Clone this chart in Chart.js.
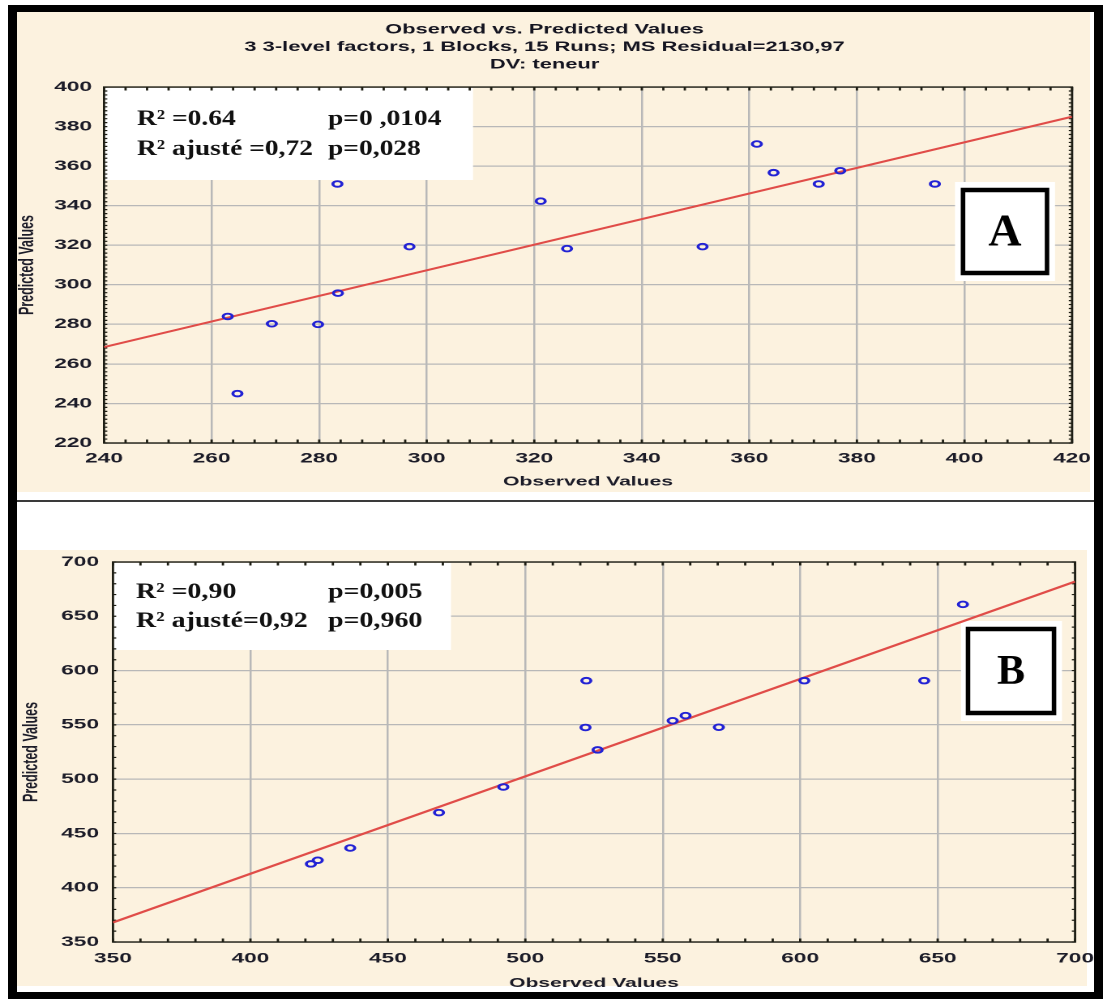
<!DOCTYPE html>
<html>
<head>
<meta charset="utf-8">
<script src="https://cdn.jsdelivr.net/npm/chart.js@4.4.1/dist/chart.umd.min.js"></script>
<style>
    html, body { margin: 0; padding: 0; background: #fff; }
    body { position: relative; width: 1105px; height: 999px; overflow: hidden; }
    #frame { position: absolute; left: 8px; top: 5px; width: 1095px; height: 994px; box-sizing: border-box;
             border-style: solid; border-color: #000; border-width: 7px 9px 7px 9px; }
    .bg { position: absolute; left: 17px; background: #fcf2df; }
    #bgA { top: 12px; width: 1073px; height: 480px; }
    #bgB { top: 550px; width: 1070px; height: 436px; }
    #sep { position: absolute; left: 17px; top: 500px; width: 1077px; height: 2px; background: #3a3a3a; }
    .wrap { position: absolute; left: 17px; width: 672px; transform-origin: 0 0; transform: scaleX(1.62085); }
    #wrapA { top: 12px; height: 480px; }
    #wrapB { top: 550px; height: 442px; }
</style>
</head>
<body>
<div id="frame"></div>
<div id="bgA" class="bg"></div>
<div id="sep"></div>
<div id="bgB" class="bg"></div>
<div id="wrapA" class="wrap"><canvas id="chartA" width="672" height="480"></canvas></div>
<div id="wrapB" class="wrap"><canvas id="chartB" width="672" height="442"></canvas></div>
<script>
// ---- panel A data ----
var observedA  = [263.0, 264.8, 271.2, 279.8, 283.5, 283.4, 296.8, 321.2, 326.1, 351.3, 361.4, 364.5, 372.9, 376.9, 394.5];
var predictedA = [284.0, 245.0, 280.3, 280.0, 295.8, 351.0, 319.3, 342.3, 318.3, 319.3, 371.2, 356.7, 351.0, 357.7, 351.0];
var fitXA = [240, 420];
var fitYA = [268.5, 385];
var ticksXA = [240, 260, 280, 300, 320, 340, 360, 380, 400, 420];
var ticksYA = [220, 240, 260, 280, 300, 320, 340, 360, 380, 400];
var titleA = ['Observed vs. Predicted Values', '3 3-level factors, 1 Blocks, 15 Runs; MS Residual=2130,97', 'DV: teneur'];
var notesA = ['R\u00B2 =0.64', 'p=0 ,0104', 'R\u00B2 ajust\u00E9 =0,72', 'p=0,028'];

// ---- panel B data ----
var observedB  = [422.0, 424.5, 436.3, 468.6, 492.0, 521.9, 522.2, 526.3, 553.6, 558.3, 570.4, 601.5, 645.1, 659.2];
var predictedB = [421.9, 425.3, 436.6, 469.2, 492.8, 547.6, 590.7, 526.9, 553.8, 558.5, 547.8, 590.7, 590.7, 661.0];
var fitXB = [350, 700];
var fitYB = [368, 682];
var ticksXB = [350, 400, 450, 500, 550, 600, 650, 700];
var ticksYB = [350, 400, 450, 500, 550, 600, 650, 700];
var notesB = ['R\u00B2 =0,90', 'p=0,005', 'R\u00B2 ajust\u00E9=0,92', 'p=0,960'];

var STRETCH = 1.62085;

function pairs(xs, ys) {
    return xs.map(function (x, i) { return { x: x, y: ys[i] }; });
}

// white patches, plot border with minor ticks, text notes and the letter box
var panelPlugin = {
    id: 'panel',
    beforeDatasetsDraw: function (chart, args, opts) {
        var ctx = chart.ctx;
        var area = chart.chartArea;
        ctx.save();
        ctx.scale(1 / STRETCH, 1);
        ctx.fillStyle = '#ffffff';
        opts.masks.forEach(function (m) {
            ctx.fillRect(m[0], m[1], m[2] - m[0], m[3] - m[1]);
        });
        ctx.restore();

        var xs = chart.scales.x, ys = chart.scales.y;
        ctx.save();
        ctx.strokeStyle = '#1e1e14';
        ctx.lineWidth = 1.4;
        ctx.beginPath();
        for (var v = xs.min; v <= xs.max + 1e-9; v += opts.minorX) {
            var px = xs.getPixelForValue(v);
            ctx.moveTo(px, area.top); ctx.lineTo(px, area.top + 3.5);
            ctx.moveTo(px, area.bottom); ctx.lineTo(px, area.bottom - 3.5);
        }
        ctx.stroke();
        ctx.lineWidth = 1.2;
        ctx.beginPath();
        for (var w = ys.min; w <= ys.max + 1e-9; w += opts.minorY) {
            var py = ys.getPixelForValue(w);
            ctx.moveTo(area.left, py); ctx.lineTo(area.left + 2, py);
            ctx.moveTo(area.right, py); ctx.lineTo(area.right - 2, py);
        }
        ctx.stroke();
        ctx.lineWidth = 1.4;
        ctx.strokeRect(area.left, area.top, area.right - area.left, area.bottom - area.top);
        ctx.restore();
    },
    afterDraw: function (chart, args, opts) {
        var ctx = chart.ctx;
        ctx.save();
        ctx.scale(1 / STRETCH, 1);
        ctx.fillStyle = '#111';
        ctx.font = 'bold 22px "Liberation Serif"';
        ctx.textAlign = 'left';
        ctx.textBaseline = 'alphabetic';
        opts.notes.forEach(function (n, i) {
            ctx.save();
            ctx.translate(opts.noteX[i % 2], opts.noteY[Math.floor(i / 2)]);
            ctx.scale(opts.noteWiden, 1);
            ctx.fillText(n, 0, 0);
            ctx.restore();
        });
        var b = opts.box;
        ctx.fillStyle = '#fff';
        ctx.fillRect(b.x0, b.y0, b.x1 - b.x0, b.y1 - b.y0);
        ctx.lineWidth = 4.5;
        ctx.strokeStyle = '#000';
        ctx.strokeRect(b.x0, b.y0, b.x1 - b.x0, b.y1 - b.y0);
        ctx.fillStyle = '#000';
        ctx.font = 'bold ' + b.size + 'px "Liberation Serif"';
        ctx.textAlign = 'center';
        ctx.textBaseline = 'middle';
        ctx.fillText(b.label, (b.x0 + b.x1) / 2, (b.y0 + b.y1) / 2 + 2);
        ctx.restore();
    }
};

function axis(ticks, title, fit, titlePad) {
    return {
        type: 'linear',
        min: ticks[0],
        max: ticks[ticks.length - 1],
        afterBuildTicks: function (scale) {
            scale.ticks = ticks.map(function (v) { return { value: v }; });
        },
        afterFit: fit,
        grid: { color: '#b8b8b8', lineWidth: 1.25, drawTicks: false },
        border: { display: false },
        ticks: {
            color: '#1c1c28',
            font: { family: '"Liberation Sans", Arial, sans-serif', size: 14, weight: 'bold' },
            maxRotation: 0,
            autoSkip: false
        },
        title: {
            display: true,
            text: title,
            color: '#1c1c28',
            font: { family: '"Liberation Sans", Arial, sans-serif', size: 13, weight: 'bold', lineHeight: 1.2 },
            padding: titlePad
        }
    };
}

function buildChart(canvasId, cfg) {
    var xAxis = axis(cfg.ticksX, 'Observed Values', function (s) {
        s.height = cfg.xHeight; s.paddingLeft = 0; s.paddingRight = 0;
    }, { top: 0, bottom: cfg.xTitlePad });
    xAxis.ticks.padding = cfg.xTickPad;
    var yAxis = axis(cfg.ticksY, 'Predicted Values', function (s) {
        s.width = cfg.yWidth; s.paddingTop = 0; s.paddingBottom = 0;
    }, { top: cfg.yTitlePad, bottom: 0 });
    yAxis.ticks.padding = cfg.yTickPad;
    yAxis.title.font = { family: '"Liberation Sans", Arial, sans-serif', size: 12.5, weight: 'bold', lineHeight: 1 };

    return new Chart(document.getElementById(canvasId), {
        type: 'scatter',
        data: {
            datasets: [
                {
                    label: 'Observed vs. Predicted',
                    data: pairs(cfg.obs, cfg.pred),
                    pointStyle: 'circle',
                    pointRadius: 2.8,
                    pointBorderWidth: 1.9,
                    borderColor: '#2222d4',
                    backgroundColor: 'rgba(255,255,255,0)'
                },
                {
                    label: 'fit',
                    data: pairs(cfg.fitX, cfg.fitY),
                    showLine: true,
                    pointRadius: 0,
                    borderColor: '#e04c48',
                    borderWidth: 2
                }
            ]
        },
        options: {
            responsive: false,
            animation: false,
            devicePixelRatio: 2,
            layout: { padding: cfg.padding },
            events: [],
            plugins: {
                legend: { display: false },
                tooltip: { enabled: false },
                title: cfg.title ? {
                    display: true,
                    text: cfg.title,
                    color: '#141420',
                    font: { family: '"Liberation Sans", Arial, sans-serif', size: 13.5, weight: 'bold', lineHeight: 1.3 },
                    padding: { top: 9, bottom: 13.4 }
                } : { display: false },
                panel: cfg.panel
            },
            scales: { x: xAxis, y: yAxis }
        },
        plugins: [panelPlugin]
    });
}

buildChart('chartA', {
    obs: observedA, pred: predictedA, fitX: fitXA, fitY: fitYA,
    ticksX: ticksXA, ticksY: ticksYA, title: titleA,
    xHeight: 49, yWidth: 53.7, xTickPad: 7, yTickPad: 7.4, xTitlePad: 2.2, yTitlePad: 0.2,
    padding: { left: 0, right: 21.1, top: 0, bottom: 0 },
    panel: {
        minorX: 4, minorY: 2,
        masks: [[88, 76, 456, 168], [938, 170, 1038, 269]],
        notes: notesA, noteX: [120, 311], noteY: [113, 143], noteWiden: 1.25,
        box: { x0: 946, y0: 178, x1: 1030, y1: 261, label: 'A', size: 46 }
    }
});

buildChart('chartB', {
    obs: observedB, pred: predictedB, fitX: fitXB, fitY: fitYB,
    ticksX: ticksXB, ticksY: ticksYB, title: null,
    xHeight: 50, yWidth: 59.2, xTickPad: 8, yTickPad: 8.6, xTitlePad: 1, yTitlePad: 3,
    padding: { left: 0, right: 19.2, top: 12, bottom: 0 },
    panel: {
        minorX: 10, minorY: 10,
        masks: [[97, 13, 434, 100], [944, 71, 1045, 171]],
        notes: notesB, noteX: [119, 311], noteY: [48, 77], noteWiden: 1.27,
        box: { x0: 951, y0: 79, x1: 1037, y1: 163, label: 'B', size: 42 }
    }
});
</script>
</body>
</html>
